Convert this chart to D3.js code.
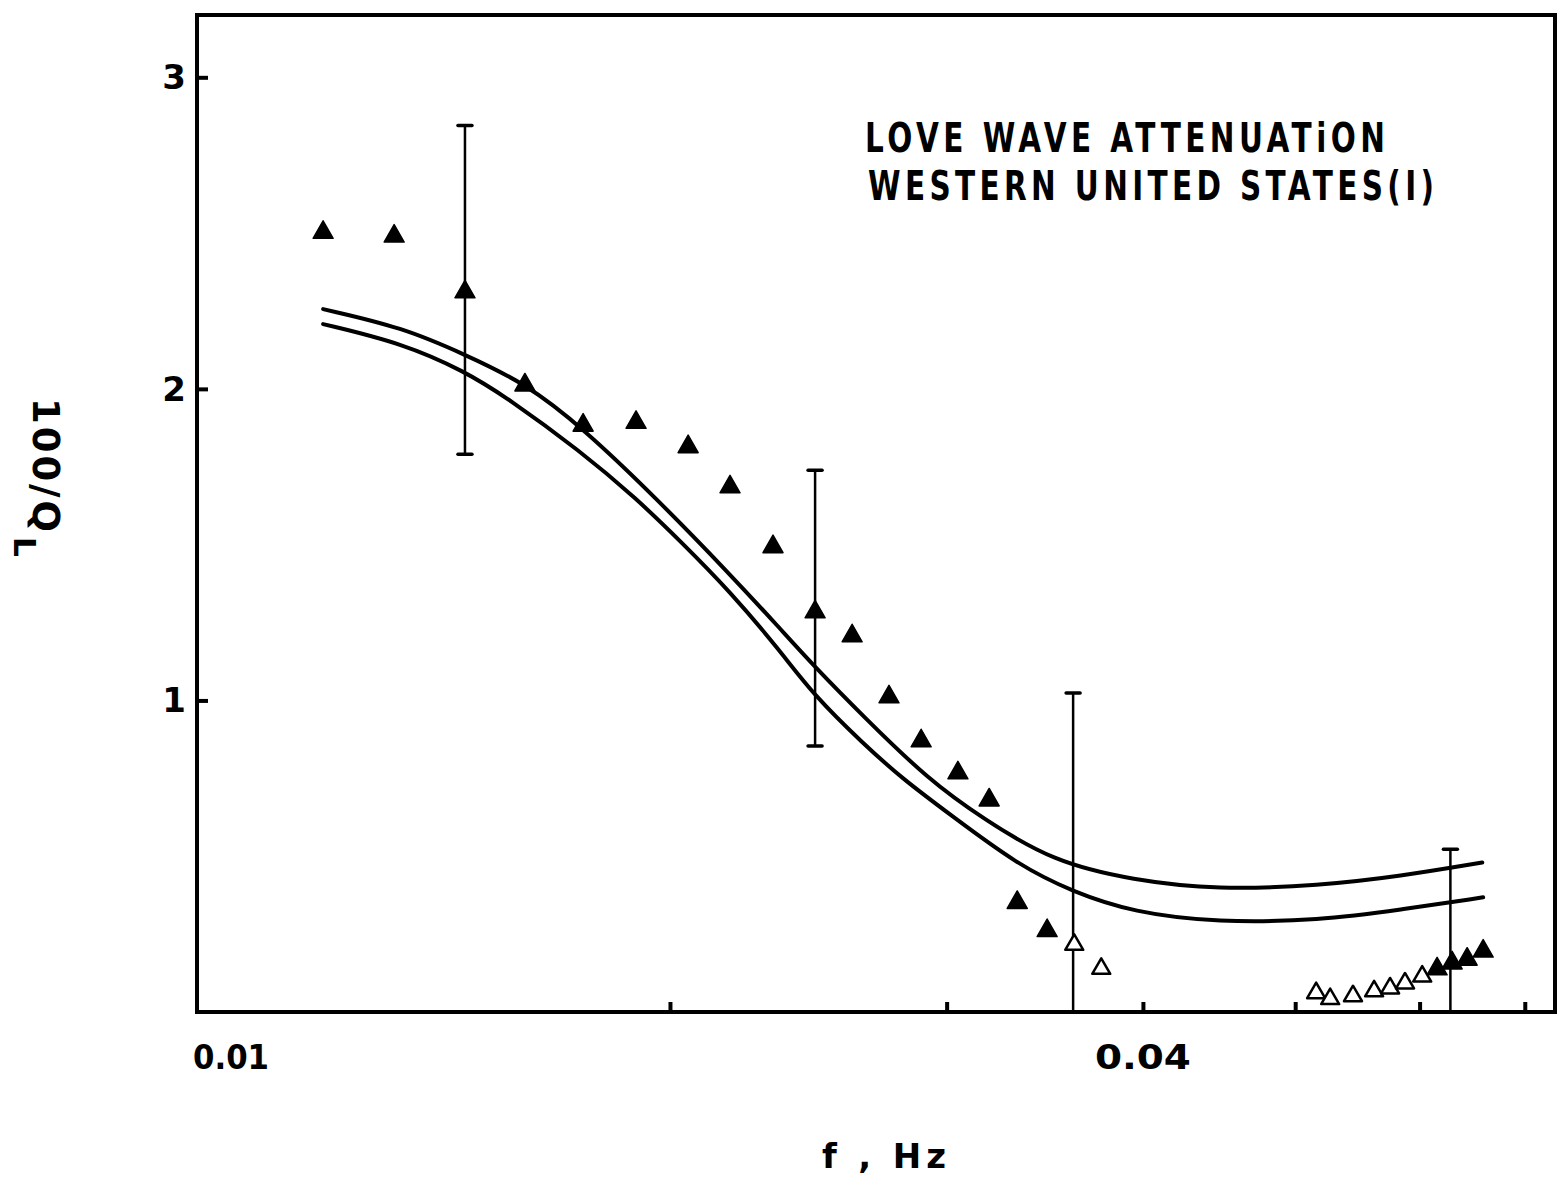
<!DOCTYPE html>
<html>
<head>
<meta charset="utf-8">
<script src="https://cdn.jsdelivr.net/npm/d3@7"></script>
<style>
  html, body { margin: 0; padding: 0; background: #fff; }
  svg { display: block; }
  text { font-family: "DejaVu Sans", "Liberation Sans", sans-serif; font-weight: bold; fill: #000; }
</style>
</head>
<body>
<svg id="chart" width="1564" height="1183"></svg>
<script>
// Love-wave attenuation 100/Q_L against frequency (Hz)

// axis ticks
const xTickValues = [0.02, 0.03, 0.04, 0.05, 0.06, 0.07];
const xTickLabels = [0.01, 0.04];
const yTickValues = [1, 2, 3];

// heading lines
const headingLines = ["LOVE WAVE ATTENUATiON", "WESTERN UNITED STATES(I)"];

// observed values, solid triangles
const filledFreq = [0.01203, 0.01335, 0.01481, 0.01617, 0.01761, 0.01903, 0.02054, 0.02184,
                    0.02326, 0.02474, 0.02612, 0.02757, 0.0289, 0.0305, 0.03193, 0.03327,
                    0.03476, 0.06156, 0.06293, 0.06433, 0.06586];
const filledQ    = [2.509, 2.497, 2.318, 2.019, 1.890, 1.899, 1.821, 1.692,
                    1.500, 1.291, 1.214, 1.018, 0.877, 0.774, 0.687, 0.358,
                    0.268, 0.145, 0.164, 0.176, 0.202];

// observed values, open triangles
const openFreq = [0.03617, 0.03763, 0.05156, 0.05263, 0.05442, 0.05613, 0.05746, 0.05873, 0.06023];
const openQ    = [0.222, 0.145, 0.067, 0.048, 0.057, 0.073, 0.082, 0.098, 0.120];

// error bars
const errFreq = [0.01481, 0.02474, 0.03611, 0.06277];
const errLow  = [1.790, 0.854, 0, 0];
const errHigh = [2.845, 1.739, 1.024, 0.522];

// model curves
const upperFreq = [0.01203, 0.01352, 0.01481, 0.01617, 0.01761, 0.01963, 0.02184, 0.0235,
                   0.02466, 0.02654, 0.0292, 0.03165, 0.03507, 0.03943, 0.0446, 0.05186,
                   0.05832, 0.06577];
const upperQ    = [2.256, 2.197, 2.110, 2.019, 1.874, 1.646, 1.405, 1.231,
                   1.114, 0.950, 0.746, 0.620, 0.482, 0.423, 0.392, 0.406,
                   0.436, 0.480];
const lowerFreq = [0.01203, 0.01352, 0.01481, 0.01575, 0.01753, 0.01906, 0.0203, 0.02184,
                   0.0235, 0.02466, 0.02654, 0.02814, 0.03015, 0.03327, 0.03611, 0.03943,
                   0.0446, 0.05186, 0.05832, 0.06586];
const lowerQ    = [2.208, 2.146, 2.056, 1.972, 1.801, 1.646, 1.512, 1.350,
                   1.160, 1.020, 0.862, 0.747, 0.634, 0.473, 0.385, 0.320,
                   0.287, 0.294, 0.328, 0.368];

const svg = d3.select("#chart");
const plotL = 197, plotR = 1555, plotT = 15, plotB = 1012;

const x = d3.scaleLog().domain([0.01, 0.07317]).range([plotL, plotR]);
const y = d3.scaleLinear().domain([0, 3.2]).range([plotB, plotT]);

// frame
svg.append("rect")
  .attr("x", plotL).attr("y", plotT)
  .attr("width", plotR - plotL).attr("height", plotB - plotT)
  .attr("fill", "none").attr("stroke", "#000").attr("stroke-width", 4);

// inward ticks
const xAxis = d3.axisTop(x).tickValues(xTickValues).tickSize(10).tickFormat("");
svg.append("g").attr("transform", `translate(0,${plotB})`).call(xAxis)
  .call(g => g.select(".domain").remove())
  .call(g => g.selectAll(".tick line").attr("stroke", "#000").attr("stroke-width", 4));

const yAxis = d3.axisRight(y).tickValues(yTickValues).tickSize(11).tickFormat("");
svg.append("g").attr("transform", `translate(${plotL},0)`).call(yAxis)
  .call(g => g.select(".domain").remove())
  .call(g => g.selectAll(".tick line").attr("stroke", "#000").attr("stroke-width", 4));

// tick labels
svg.append("g").selectAll("text").data(xTickLabels).join("text")
  .attr("x", d => d === 0.01 ? x(d) - 4 : x(d))
  .attr("y", 1069)
  .attr("text-anchor", d => d === 0.01 ? "start" : "middle")
  .attr("font-size", 34)
  .attr("textLength", d => d === 0.01 ? 76 : 96)
  .attr("lengthAdjust", "spacingAndGlyphs")
  .text(d => d3.format(".2f")(d));

svg.append("g").selectAll("text").data(yTickValues).join("text")
  .attr("x", 186)
  .attr("y", d => y(d) + 12)
  .attr("text-anchor", "end")
  .attr("font-size", 34)
  .text(d => d);

// axis titles
svg.append("text")
  .attr("x", 822).attr("y", 1168)
  .attr("font-size", 34)
  .attr("textLength", 124).attr("lengthAdjust", "spacing")
  .text("f , Hz");

const yTitle = svg.append("text")
  .attr("transform", "translate(33,398) rotate(90)")
  .attr("font-size", 37);
yTitle.append("tspan").attr("textLength", 134).attr("lengthAdjust", "spacing").text("100/Q");
yTitle.append("tspan").attr("font-size", 31).attr("dy", 19).attr("dx", 2).text("L");

// heading: narrowed lettering, spacing opened to fill each line's width
const headingPos = [{x: 865, y: 152, w: 520}, {x: 868, y: 200, w: 566}];
const squeeze = 0.72;
headingLines.forEach((s, i) => {
  const p = headingPos[i];
  const t = svg.append("text")
    .attr("transform", `translate(${p.x},${p.y}) scale(${squeeze},1)`)
    .attr("font-size", 41)
    .text(s);
  const natural = t.node().getComputedTextLength();
  const gap = (p.w / squeeze - natural) / (s.length - 1);
  t.style("letter-spacing", `${gap}px`);
});

// model curves
const line = (fs, qs) => d3.line()
  .x(i => x(fs[i])).y(i => y(qs[i]))
  .curve(d3.curveBasis)(d3.range(fs.length));

svg.append("path").attr("d", line(upperFreq, upperQ))
  .attr("fill", "none").attr("stroke", "#000").attr("stroke-width", 4).attr("stroke-linecap", "round");
svg.append("path").attr("d", line(lowerFreq, lowerQ))
  .attr("fill", "none").attr("stroke", "#000").attr("stroke-width", 4).attr("stroke-linecap", "round");

// error bars
const eb = svg.append("g").attr("stroke", "#000");
errFreq.forEach((f, i) => {
  eb.append("line")
    .attr("x1", x(f)).attr("x2", x(f))
    .attr("y1", y(errLow[i])).attr("y2", y(errHigh[i]))
    .attr("stroke-width", 2.5);
  [errLow[i], errHigh[i]].filter(v => v > 0).forEach(v => {
    eb.append("line")
      .attr("x1", x(f) - 7).attr("x2", x(f) + 7)
      .attr("y1", y(v)).attr("y2", y(v))
      .attr("stroke-width", 3.5).attr("stroke-linecap", "round");
  });
});

// triangle markers
const solidTri = "M0,-9.5L10,8L-10,8Z";
const openTri = "M0,-8.5L9,7L-9,7Z";

svg.append("g").selectAll("path").data(d3.range(filledFreq.length)).join("path")
  .attr("d", solidTri)
  .attr("transform", i => `translate(${x(filledFreq[i])},${y(filledQ[i])})`)
  .attr("fill", "#000").attr("stroke", "#000").attr("stroke-width", 1.5)
  .attr("stroke-linejoin", "round");

svg.append("g").selectAll("path").data(d3.range(openFreq.length)).join("path")
  .attr("d", openTri)
  .attr("transform", i => `translate(${x(openFreq[i])},${y(openQ[i])})`)
  .attr("fill", "#fff").attr("stroke", "#000").attr("stroke-width", 2.5)
  .attr("stroke-linejoin", "round");
</script>
</body>
</html>
